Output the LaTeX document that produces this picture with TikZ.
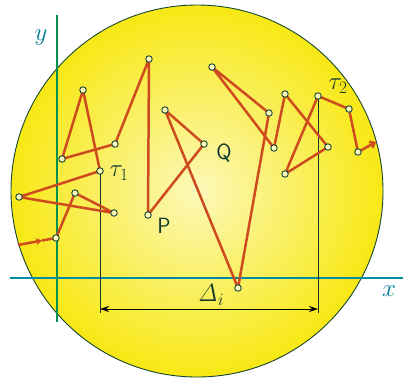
\documentclass[tikz,border=0pt]{standalone}
\usepackage{tikz}
\usetikzlibrary{arrows.meta,decorations.markings}
\definecolor{walk}{RGB}{205,75,30}
\definecolor{ptline}{RGB}{20,70,50}
\definecolor{axx}{RGB}{0,140,165}
\definecolor{axy}{RGB}{0,145,80}
\definecolor{lbl}{RGB}{0,125,150}
\definecolor{txt}{RGB}{15,55,45}
\definecolor{diskout}{RGB}{248,232,20}
\definecolor{diskin}{RGB}{252,248,185}
\begin{document}
\begin{tikzpicture}[x=1pt,y=-1pt,
  pt/.style={circle,draw=ptline,line width=0.9pt,fill=diskin,inner sep=0pt,minimum size=6.5pt},
  walkline/.style={draw=walk,line width=2.5pt,line join=round},
  dropline/.style={draw=ptline!80!black,line width=0.9pt},
  lab/.style={text=txt,font=\fontsize{24}{26}\selectfont},
  sflab/.style={text=txt,font=\fontsize{22}{24}\selectfont\sffamily},
  axlab/.style={text=lbl,font=\fontsize{25}{27}\selectfont}]
\useasboundingbox (0,0) rectangle (403,383);
% disk
\shade[inner color=diskin,outer color=diskout] (197,191) circle (186);
\draw[ptline,line width=0.9pt] (197,191) circle (186);
% axes
\coordinate (xa) at (10,278);
\coordinate (xb) at (403,278);
\coordinate (ya) at (57,15);
\coordinate (yb) at (57,322);
\draw[axx,line width=1.2pt] (xa) -- (xb);
\draw[axy,line width=1.2pt] (ya) -- (yb);
\node[axlab] (xl) at (389,291) {$x$};
\node[axlab] (yl) at (41,38) {$y$};
% points
\coordinate (A) at (83,90);
\coordinate (B) at (62,159);
\coordinate (C) at (115,144);
\coordinate (D) at (149,59);
\coordinate (E) at (165,110);
\coordinate (T1) at (100,171);
\coordinate (F) at (19,197);
\coordinate (G) at (75,193);
\coordinate (H) at (114,213);
\coordinate (P) at (148,215);
\coordinate (I) at (56,238);
\coordinate (J) at (212,67);
\coordinate (K) at (269,113);
\coordinate (L) at (285,94);
\coordinate (M) at (274,148);
\coordinate (T2) at (318,96);
\coordinate (O) at (349,109);
\coordinate (R) at (328,147);
\coordinate (S) at (285,174);
\coordinate (T) at (358,152);
\coordinate (Q) at (204,144);
\coordinate (U) at (238,288);
\coordinate (in) at (18,245);
\coordinate (inm) at (42,240.5);
\coordinate (out) at (376,142);
\coordinate (d1) at (100,313);
\coordinate (d2) at (318,313);
\coordinate (a1) at (100,309);
\coordinate (a2) at (318,309);
% drops and dimension
\draw[dropline] (T1) -- (d1);
\draw[dropline] (T2) -- (d2);
\draw[black,line width=0.9pt,{Stealth[length=9pt,width=6pt]}-{Stealth[length=9pt,width=6pt]}] (a1) -- (a2);
% walk
\draw[walkline,-{Stealth[length=6pt,width=7pt]}] (in) -- (inm);
\draw[walkline] (inm) -- (I) -- (G) -- (H) -- (F) -- (T1) -- (A) -- (B) -- (C) -- (D) -- (P) -- (Q) -- (E) -- (U) -- (K) -- (J) -- (M) -- (L) -- (R) -- (S) -- (T2) -- (O) -- (T);
\draw[walkline,-{Straight Barb[length=4pt,width=7pt]}] (T) -- (out);
% point markers
\foreach \p in {A,B,C,D,E,T1,F,G,H,P,I,J,K,L,M,T2,O,R,S,T,Q,U}
  \node[pt] (n\p) at (\p) {};
% labels
\node[lab] (lt1) at (119,173) {$\tau_1$};
\node[lab] (lt2) at (338,86) {$\tau_2$};
\node[sflab] (lq) at (224,153) {Q};
\node[sflab] (lp) at (164,226) {P};
\node[lab] (ld) at (211,295) {$\mathit{\Delta}_i$};
\end{tikzpicture}
\end{document}
